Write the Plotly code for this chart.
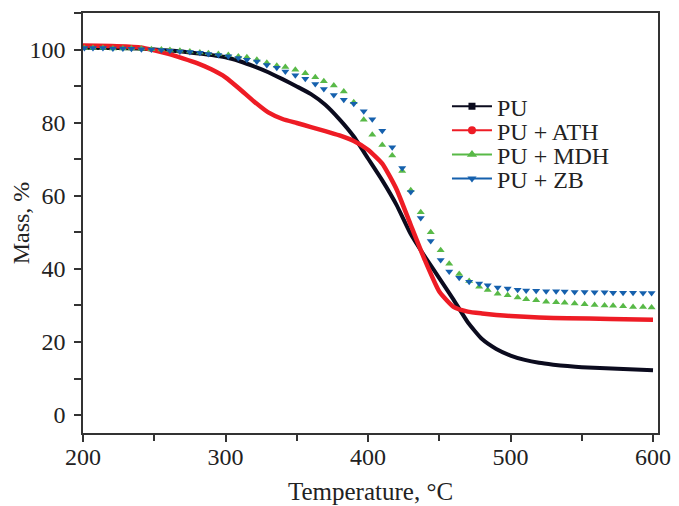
import plotly.graph_objects as go

# ---- data ----
pu_temp = [200, 225, 250, 275, 300, 310, 320, 330, 340, 350, 360, 370, 380, 390, 400,
           410, 420, 430, 440, 450, 460, 470, 480, 490, 500, 510, 520, 530, 540, 550,
           575, 600]
pu_mass = [100.5, 100.4, 100.0, 99.2, 97.9, 96.8, 95.4, 93.8, 91.9, 89.9, 87.8, 84.9, 80.9,
           76.2, 70.2, 64.2, 57.5, 49.5, 43.3, 37.5, 31.6, 25.4, 20.8, 18.1, 16.3, 15.1,
           14.3, 13.8, 13.4, 13.1, 12.7, 12.3]

ath_temp = [200, 220, 240, 250, 260, 270, 280, 290, 300, 310, 320, 330, 340, 350, 360,
            370, 380, 390, 400, 410, 420, 430, 440, 450, 460, 470, 480, 490, 500, 520,
            540, 570, 600]
ath_mass = [101.1, 101.0, 100.6, 99.8, 98.8, 97.6, 96.3, 94.6, 92.4, 89.2, 85.8, 82.8,
            81.0, 79.9, 78.8, 77.7, 76.5, 75.0, 72.6, 68.8, 61.8, 52.0, 42.3, 33.8, 29.6,
            28.3, 27.8, 27.4, 27.1, 26.7, 26.5, 26.3, 26.1]

tri_temp = [201, 207, 214, 221, 228, 234, 241, 248, 255, 261,
            268, 275, 282, 288, 295, 302, 309, 315, 322, 329,
            336, 342, 349, 356, 363, 369, 376, 383, 390, 397,
            403, 410, 417, 424, 430, 437, 444, 451, 457, 464,
            471, 478, 484, 491, 498, 505, 511, 518, 525, 532,
            538, 545, 552, 559, 566, 572, 579, 586, 593, 599]

mdh_mass = [100.4, 100.4, 100.4, 100.3, 100.3, 100.3, 100.2, 100.1, 100.0, 99.9,
            99.7, 99.5, 99.2, 99.0, 98.8, 98.5, 98.1, 97.9, 97.2, 96.4,
            95.6, 95.2, 94.5, 93.5, 92.4, 91.3, 90.2, 88.5, 85.6, 80.8,
            76.7, 73.9, 71.0, 66.8, 61.5, 55.5, 50.0, 45.1, 41.4, 38.6,
            36.7, 35.1, 34.2, 33.2, 32.8, 32.2, 31.7, 31.4, 31.0, 30.9,
            30.7, 30.5, 30.3, 30.1, 30.0, 29.9, 29.8, 29.6, 29.6, 29.4]

zb_mass = [100.4, 100.4, 100.4, 100.3, 100.3, 100.2, 100.1, 100.0, 99.9, 99.7,
           99.5, 99.3, 99.1, 98.8, 98.5, 98.2, 97.7, 97.2, 96.7, 95.8,
           95.0, 94.0, 93.0, 92.0, 90.6, 89.2, 87.6, 86.3, 85.2, 83.1,
           80.9, 77.8, 73.3, 67.6, 61.0, 53.9, 47.6, 42.4, 39.3, 37.6,
           36.5, 36.0, 35.5, 34.9, 34.6, 34.3, 34.1, 34.0, 33.9, 33.9,
           33.8, 33.7, 33.7, 33.6, 33.6, 33.5, 33.5, 33.5, 33.4, 33.4]

names = ["PU", "PU + ATH", "PU + MDH", "PU + ZB"]
colors = ["#0b0b1e", "#ee1c25", "#58b947", "#1560ad"]
symbols = ["square", "circle", "triangle-up", "triangle-down"]

FONT = "Liberation Serif, Times New Roman, serif"
TXT = "#222222"

fig = go.Figure()

fig.add_trace(go.Scatter(x=pu_temp, y=pu_mass, mode="lines", showlegend=False,
                         line=dict(color=colors[0], width=4, shape="spline", smoothing=0.5)))
fig.add_trace(go.Scatter(x=ath_temp, y=ath_mass, mode="lines", showlegend=False,
                         line=dict(color=colors[1], width=4.5, shape="spline", smoothing=0.5)))
fig.add_trace(go.Scatter(x=tri_temp, y=mdh_mass, mode="markers", showlegend=False,
                         marker=dict(symbol=symbols[2], color=colors[2], size=7)))
fig.add_trace(go.Scatter(x=tri_temp, y=zb_mass, mode="markers", showlegend=False,
                         marker=dict(symbol=symbols[3], color=colors[3], size=7)))

# legend entries (line + marker, as in the original legend), one legend per row
legend_ids = ["legend", "legend2", "legend3", "legend4"]
legend_y = [0.777, 0.720, 0.662, 0.605]
for n, c, s, sz, lid in zip(names, colors, symbols, [7, 8, 9, 8], legend_ids):
    fig.add_trace(go.Scatter(x=[None], y=[None], mode="lines+markers", name=n,
                             legend=lid,
                             line=dict(color=c, width=2),
                             marker=dict(symbol=s, color=c, size=sz)))

axis_common = dict(showgrid=False, zeroline=False, showline=True, mirror=True,
                   linecolor="#333333", linewidth=1.5, ticks="outside", tickcolor="#333333",
                   tickwidth=1.5, ticklen=7, automargin=False)

fig.update_xaxes(range=[200, 603.5], tickvals=[200, 300, 400, 500, 600],
                 minor=dict(tickvals=[250, 350, 450, 550], ticks="outside", ticklen=6,
                            tickcolor="#333333", tickwidth=1.5),
                 tickfont=dict(family=FONT, size=24, color=TXT), ticklabelstandoff=-6,
                 title=dict(text="Temperature, °C", font=dict(family=FONT, size=25, color=TXT),
                            standoff=14),
                 **axis_common)
fig.update_yaxes(range=[-4.9, 110], tickvals=[0, 20, 40, 60, 80, 100],
                 minor=dict(tickvals=[10, 30, 50, 70, 90, 110], ticks="outside", ticklen=7,
                            tickcolor="#333333", tickwidth=1.5),
                 tickfont=dict(family=FONT, size=24, color=TXT), ticklabelstandoff=4,
                 title=dict(text="Mass, %", font=dict(family=FONT, size=24, color=TXT),
                            standoff=2),
                 **axis_common)

leg_common = dict(x=0.633, xanchor="left", yanchor="middle",
                  font=dict(family=FONT, size=24, color=TXT),
                  bgcolor="rgba(0,0,0,0)", itemwidth=40)
layout_legends = {lid: dict(y=y, **leg_common) for lid, y in zip(legend_ids, legend_y)}

# the page body adds an 8 px margin, so the figure is 8 px smaller than the window
fig.update_layout(
    width=671, height=498,
    margin=dict(l=75, r=21, t=5, b=73),
    paper_bgcolor="white", plot_bgcolor="white",
    **layout_legends,
)

fig.write_html("out.html")
